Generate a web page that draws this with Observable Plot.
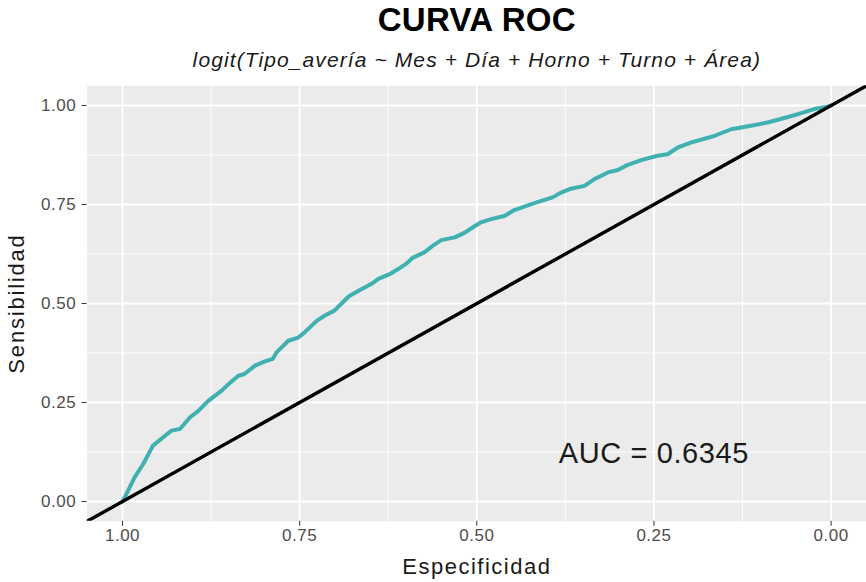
<!DOCTYPE html>
<html>
<head>
<meta charset="utf-8">
<script src="https://cdn.jsdelivr.net/npm/d3@7"></script>
<script src="https://cdn.jsdelivr.net/npm/@observablehq/plot@0.6"></script>
<style>
  html, body { margin: 0; padding: 0; background: #ffffff; }
  #chart { width: 866px; height: 582px; }
</style>
</head>
<body>
<div id="chart"></div>
<script>
const titleText = "CURVA ROC";
const subtitleText = "logit(Tipo_avería ~ Mes + Día + Horno + Turno + Área)";
const xLabel = "Especificidad";
const yLabel = "Sensibilidad";
const aucLabel = "AUC = 0.6345";

const majorTicks = [0, 0.25, 0.5, 0.75, 1];
const minorTicks = [0.125, 0.375, 0.625, 0.875];

// ROC curve
const especificidad = [1.000, 0.997, 0.983, 0.971, 0.957, 0.940, 0.931, 0.919, 0.905, 0.893, 0.879, 0.860, 0.853, 0.837, 0.828, 0.813, 0.799, 0.788, 0.783, 0.766, 0.752, 0.743, 0.726, 0.715, 0.701, 0.687, 0.680, 0.663, 0.649, 0.639, 0.623, 0.611, 0.600, 0.590, 0.574, 0.562, 0.550, 0.531, 0.517, 0.506, 0.494, 0.480, 0.461, 0.447, 0.423, 0.409, 0.393, 0.381, 0.369, 0.348, 0.334, 0.315, 0.301, 0.287, 0.268, 0.245, 0.231, 0.216, 0.197, 0.165, 0.141, 0.113, 0.090, 0.071, 0.047, 0.024, 0.005, 0.000];
const sensibilidad = [0.000, 0.010, 0.061, 0.094, 0.141, 0.166, 0.179, 0.183, 0.212, 0.229, 0.254, 0.280, 0.292, 0.317, 0.322, 0.343, 0.354, 0.360, 0.376, 0.406, 0.414, 0.427, 0.456, 0.469, 0.482, 0.507, 0.519, 0.536, 0.549, 0.562, 0.574, 0.587, 0.600, 0.616, 0.629, 0.646, 0.660, 0.667, 0.679, 0.692, 0.705, 0.713, 0.721, 0.736, 0.751, 0.759, 0.768, 0.780, 0.789, 0.797, 0.814, 0.831, 0.837, 0.850, 0.862, 0.873, 0.877, 0.894, 0.907, 0.923, 0.940, 0.949, 0.957, 0.966, 0.978, 0.991, 0.997, 1.000];

// reference diagonal (sens = 1 - spec), extended over the expanded domain
const diagSpec = [1.05, -0.05];
const diagSens = [-0.05, 1.05];

const aucPos = { x: 0.25, y: 0.12 };

const roc = especificidad.map((e, i) => ({ e, s: sensibilidad[i] }));
const diag = diagSpec.map((e, i) => ({ e, s: diagSens[i] }));

const font = "'Liberation Sans', Arial, Helvetica, sans-serif";

const chart = Plot.plot({
  width: 866,
  height: 582,
  marginLeft: 86.6,
  marginRight: 0,
  marginTop: 85.2,
  marginBottom: 61.2,
  style: { fontFamily: font, background: "#ffffff", overflow: "visible" },
  x: { domain: [1.05, -0.05], label: null },
  y: { domain: [-0.05, 1.05], label: null },
  marks: [
    Plot.frame({ fill: "#EBEBEB", stroke: "none" }),
    Plot.gridX(minorTicks, { stroke: "#ffffff", strokeOpacity: 1, strokeWidth: 0.9 }),
    Plot.gridY(minorTicks, { stroke: "#ffffff", strokeOpacity: 1, strokeWidth: 0.9 }),
    Plot.gridX(majorTicks, { stroke: "#ffffff", strokeOpacity: 1, strokeWidth: 1.8 }),
    Plot.gridY(majorTicks, { stroke: "#ffffff", strokeOpacity: 1, strokeWidth: 1.8 }),
    Plot.axisX(majorTicks, { tickFormat: d3.format(".2f"), tickSize: 5, tickPadding: 3, fontSize: 17, fill: "#4D4D4D", stroke: "#333333", label: null }),
    Plot.axisY(majorTicks, { tickFormat: d3.format(".2f"), tickSize: 5, tickPadding: 6, fontSize: 17, fill: "#4D4D4D", stroke: "#333333", label: null }),
    Plot.line(roc, { x: "e", y: "s", stroke: "#40B0B0", strokeWidth: 4, strokeLinejoin: "round", strokeLinecap: "round" }),
    Plot.line(diag, { x: "e", y: "s", stroke: "#000000", strokeWidth: 3.4, clip: true }),
    Plot.text([aucLabel], { x: aucPos.x, y: aucPos.y, text: d => d, fontSize: 29, fill: "#1A1A1A", textAnchor: "middle", lineAnchor: "middle" }),
    Plot.text([titleText], { frameAnchor: "top", dy: -65, text: d => d, fontSize: 33, fontWeight: "bold", fill: "#000000", textAnchor: "middle", lineAnchor: "middle" }),
    Plot.text([subtitleText], { frameAnchor: "top", dy: -25.5, text: d => d, fontSize: 21, fontStyle: "italic", fill: "#1A1A1A", textAnchor: "middle", lineAnchor: "middle" }),
    Plot.text([xLabel], { frameAnchor: "bottom", dy: 46, text: d => d, fontSize: 22, fill: "#1A1A1A", textAnchor: "middle", lineAnchor: "middle" }),
    Plot.text([yLabel], { frameAnchor: "left", dx: -70.6, rotate: -90, text: d => d, fontSize: 22, fill: "#1A1A1A", textAnchor: "middle", lineAnchor: "middle" })
  ]
});

// letter spacing to match the wider glyph spacing of the original rendering
const spacing = new Map([
  [subtitleText, "1.1px"],
  [xLabel, "1.5px"],
  [yLabel, "1.8px"],
  [aucLabel, "0.6px"],
  [titleText, "0.3px"]
]);
d3.select(chart).selectAll("text").each(function () {
  const t = this.textContent;
  if (spacing.has(t)) this.style.letterSpacing = spacing.get(t);
  else if (/^\d\.\d\d$/.test(t)) this.style.letterSpacing = "0.5px";
});

document.getElementById("chart").appendChild(chart);
</script>
</body>
</html>
